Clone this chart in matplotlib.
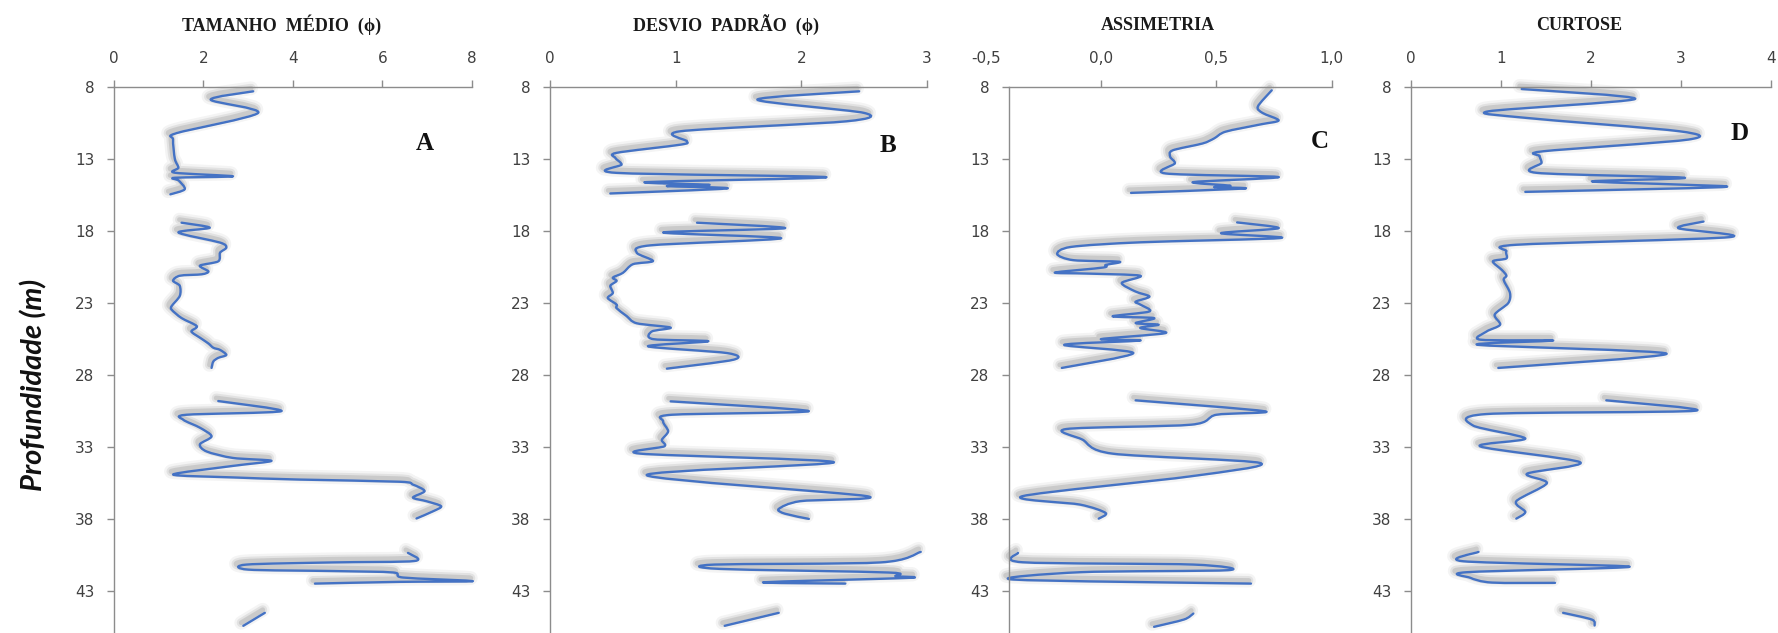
import numpy as np
import matplotlib
matplotlib.use("Agg")
import matplotlib.pyplot as plt
import matplotlib.patheffects as pe
from matplotlib.path import Path
from matplotlib.patches import PathPatch

nan = np.nan

# profundidade (m) e valores, gaps entre intervalos amostrados marcados com nan
depth_a = [8.3, 8.88, 9.8, 11.2, 11.65, 13.0, 13.6, 13.95, 14.2, 14.3, 14.5, 15.1, 15.45, nan,
           17.42, 17.77, 18.1, 18.8, 19.15, 19.5, 20.1, 20.4, 20.8, 21.0, 21.1, 21.45, 21.8, 22.5,
           23.2, 23.46, 24.04, 24.6, 24.97, 25.4, 25.8, 26.1, 26.25, 26.6, 26.8, 27.05, 27.5, nan,
           29.8, 30.5, 30.75, 31.1, 31.65, 32.25, 32.8, 33.3, 33.75, 33.95, 34.3, 34.9, 35.1, 35.25,
           35.4, 35.6, 36.05, 36.5, 36.75, 37.1, 37.45, 37.95, nan,
           40.34, 40.9, 41.0, 41.15, 41.5, 41.6, 41.7, 42.05, 42.3, 42.35, 42.47, nan,
           44.5, 45.4]
media = [3.11, 2.16, 3.22, 1.40, 1.32, 1.36, 1.44, 1.36, 2.66, 1.36, 1.45, 1.58, 1.26, nan,
         1.51, 2.14, 1.44, 2.37, 2.51, 2.37, 2.33, 1.92, 2.11, 1.96, 1.47, 1.32, 1.47, 1.47,
         1.29, 1.29, 1.51, 1.85, 1.73, 1.92, 2.11, 2.22, 2.37, 2.51, 2.33, 2.22, 2.18, nan,
         2.33, 3.74, 1.62, 1.55, 1.92, 2.18, 1.92, 2.07, 2.66, 3.52, 2.66, 1.32, 2.66, 4.15,
         6.38, 6.68, 6.94, 6.68, 6.98, 7.31, 7.13, 6.76, nan,
         6.57, 6.72, 4.9, 2.96, 3.0, 4.9, 6.24, 6.46, 8.02, 6.38, 4.49, nan,
         3.37, 2.89]

depth_b = [8.3, 8.88, 9.8, 10.38, 11.07, 11.77, 12.0, 12.57, 12.92, 13.38, 13.96, 14.26, 14.6,
           14.79, 14.88, 15.04, 15.39, nan,
           17.42, 17.8, 18.1, 18.5, 18.99, 19.5, 20.08, 20.3, 20.9, 21.23, 21.46, 21.8, 22.3,
           22.65, 23.1, 23.35, 23.9, 24.4, 24.7, 24.97, 25.5, 25.65, 26.0, 26.47, 26.93, 27.55, nan,
           29.82, 30.5, 30.75, 31.2, 31.9, 32.5, 32.94, 33.45, 34.05, 34.95, 36.4, 36.75, 37.29,
           37.62, 37.98, nan,
           40.27, 41.0, 41.15, 41.45, 41.7, 41.95, 42.07, 42.38, 42.47, nan,
           44.5, 45.4]
desvio = [2.46, 1.65, 2.50, 2.36, 1.04, 1.09, 1.04, 0.53, 0.52, 0.57, 0.53, 2.20, 0.77,
          1.27, 0.93, 1.41, 0.48, nan,
          1.17, 1.87, 0.90, 1.84, 0.80, 0.69, 0.82, 0.66, 0.58, 0.50, 0.53, 0.48, 0.50,
          0.46, 0.53, 0.53, 0.61, 0.69, 0.96, 0.81, 0.82, 1.26, 0.78, 1.41, 1.46, 0.93, nan,
          0.96, 2.06, 0.97, 0.90, 0.94, 0.89, 0.91, 0.72, 2.26, 0.77, 2.52, 1.99, 1.82,
          1.87, 2.06, nan,
          2.95, 2.63, 1.31, 1.35, 2.69, 2.75, 2.86, 1.70, 2.35, nan,
          1.82, 1.39]

depth_c = [8.23, 9.35, 9.8, 10.32, 10.6, 11.1, 11.57, 11.92, 12.4, 12.85, 13.3, 14.0, 14.25,
           14.6, 14.85, 14.95, 15.05, 15.35, nan,
           17.4, 17.8, 18.15, 18.48, 18.78, 19.1, 19.6, 20.02, 20.13, 20.35, 20.53, 20.88, 20.95,
           21.1, 21.6, 22.2, 22.55, 22.9, 23.1, 23.58, 23.92, 24.04, 24.39, 24.5, 24.73, 25.08,
           25.5, 25.6, 25.9, 26.47, 27.5, nan,
           29.75, 30.51, 30.75, 31.44, 31.74, 32.48, 33.45, 34.1, 35.02, 36.4, 36.99, 37.57,
           37.96, nan,
           40.34, 40.99, 41.15, 41.54, 41.68, 42.19, 42.47, nan,
           44.55, 44.96, 45.47]
assimetria = [0.74, 0.68, 0.70, 0.77, 0.69, 0.54, 0.49, 0.44, 0.31, 0.30, 0.32, 0.28, 0.77,
              0.40, 0.56, 0.49, 0.62, 0.13, nan,
              0.59, 0.77, 0.52, 0.78, 0.17, -0.13, -0.19, -0.12, 0.08, 0.02, 0.01, -0.20, -0.06,
              0.17, 0.09, 0.15, 0.21, 0.15, 0.17, 0.21, 0.05, 0.23, 0.15, 0.25, 0.17, 0.28,
              0.0, 0.17, -0.16, 0.14, -0.17, nan,
              0.15, 0.71, 0.50, 0.39, -0.15, -0.08, 0.05, 0.69, 0.39, -0.34, -0.09, 0.02,
              -0.01, nan,
              -0.36, -0.34, 0.40, 0.55, -0.09, -0.38, 0.65, nan,
              0.40, 0.36, 0.23]

depth_d = [8.14, 8.83, 9.69, 10.15, 11.07, 11.65, 12.46, 12.8, 13.27, 13.96, 14.3, 14.55,
           14.77, 14.95, 15.28, nan,
           17.34, 17.8, 18.42, 18.95, 19.4, 19.9, 20.1, 20.7, 21.1, 21.4, 22.3, 23.0, 23.8,
           24.5, 24.97, 25.54, 25.6, 25.9, 26.51, 27.5, nan,
           29.75, 30.47, 30.7, 31.5, 32.4, 32.95, 34.05, 34.84, 35.5, 36.75, 37.5, 37.96, nan,
           40.27, 40.92, 41.3, 41.68, 42.07, 42.4, 42.42, nan,
           44.5, 44.97, 45.38]
curtose = [1.23, 2.49, 0.86, 1.29, 2.98, 3.08, 1.47, 1.43, 1.45, 1.40, 3.04, 2.01,
           2.97, 3.45, 1.27, nan,
           3.25, 2.97, 3.54, 1.17, 1.06, 1.06, 0.91, 1.01, 1.06, 1.03, 1.10, 1.08, 0.93,
           0.99, 0.84, 0.77, 1.58, 0.75, 2.84, 0.97, nan,
           2.17, 3.16, 0.84, 0.69, 1.27, 0.77, 1.88, 1.29, 1.51, 1.17, 1.27, 1.17, nan,
           0.75, 0.58, 2.43, 0.62, 0.66, 0.90, 1.60, nan,
           1.69, 2.01, 2.04]

depth_ticks = [8, 13, 18, 23, 28, 33, 38, 43]
titles = ["TAMANHO  MÉDIO  (ϕ)", "DESVIO  PADRÃO  (ϕ)", "ASSIMETRIA", "CURTOSE"]
letters = ["A", "B", "C", "D"]
x_ticks = [[0, 2, 4, 6, 8], [0, 1, 2, 3], [-0.5, 0.0, 0.5, 1.0], [0, 1, 2, 3, 4]]
x_labels = [["0", "2", "4", "6", "8"], ["0", "1", "2", "3"],
            ["-0,5", "0,0", "0,5", "1,0"], ["0", "1", "2", "3", "4"]]
x_limits = [(0, 8), (0, 3), (-0.5, 1.0), (0, 4)]
series = [(media, depth_a), (desvio, depth_b), (assimetria, depth_c), (curtose, depth_d)]


def smooth_path(xs, ys, k=1 / 7):
    """Smoothed line through the points (Catmull-Rom as cubic Bezier), broken at nan."""
    xs = np.asarray(xs, float)
    ys = np.asarray(ys, float)
    verts, codes = [], []
    breaks = np.where(np.isnan(xs))[0]
    starts = np.r_[0, breaks + 1]
    ends = np.r_[breaks, len(xs)]
    for s, e in zip(starts, ends):
        p = np.column_stack([xs[s:e], ys[s:e]])
        if len(p) < 2:
            continue
        verts.append(p[0]); codes.append(Path.MOVETO)
        for i in range(len(p) - 1):
            p0 = p[i - 1] if i > 0 else p[i]
            p3 = p[i + 2] if i + 2 < len(p) else p[i + 1]
            c1 = p[i] + (p[i + 1] - p0) * k
            c2 = p[i + 1] - (p3 - p[i]) * k
            verts += [c1, c2, p[i + 1]]
            codes += [Path.CURVE4] * 3
    return Path(verts, codes)


W, H = 1778, 633
fig = plt.figure(figsize=(W / 100, H / 100), dpi=100)

# pixel extents of each track: left, right
rects_px = [(114, 472), (550, 927), (985.7, 1331.7), (1411, 1771)]
top_px = 87
title_x = [282, 726, 1158, 1579]
letter_xy = [(425, 143), (888, 145), (1320, 142), (1740, 133)]

shadow = [pe.SimpleLineShadow(offset=(-1.5, 2.2), shadow_color="#000000", alpha=0.045, linewidth=10),
          pe.SimpleLineShadow(offset=(-1.5, 2.2), shadow_color="#000000", alpha=0.07, linewidth=6.5),
          pe.SimpleLineShadow(offset=(-1.5, 2.2), shadow_color="#000000", alpha=0.10, linewidth=3.5),
          pe.Normal()]

axis_grey = "#8c8c8c"
label_grey = "#404040"

for i in range(4):
    l, r = rects_px[i]
    ax = fig.add_axes([l / W, 0, (r - l) / W, 1 - top_px / H])
    vals, deps = series[i]
    patch = PathPatch(smooth_path(vals, deps), facecolor="none", edgecolor="#4472C4",
                      lw=1.7, joinstyle="round", capstyle="round", clip_on=False,
                      path_effects=shadow)
    ax.add_patch(patch)
    ax.set_xlim(*x_limits[i])
    ax.set_ylim(45.9, 8)
    ax.xaxis.tick_top()
    ax.set_xticks(x_ticks[i])
    ax.set_xticklabels(x_labels[i])
    ax.set_yticks(depth_ticks)
    for side in ("right", "bottom"):
        ax.spines[side].set_visible(False)
    for side in ("top", "left"):
        ax.spines[side].set_color(axis_grey)
        ax.spines[side].set_linewidth(1.0)
    ax.tick_params(axis="both", colors=axis_grey, labelcolor=label_grey,
                   labelsize=11, length=5, width=1, direction="out")
    ax.tick_params(axis="x", pad=10)
    ax.tick_params(axis="y", pad=9)
    if i == 2:
        # vertical axis crosses at -0,4
        ax.spines["left"].set_position(("data", -0.4))
        ax.spines["top"].set_bounds(-0.4, 1.0)
        ax.xaxis.get_major_ticks()[0].tick2line.set_visible(False)

    fig.text(title_x[i] / W, 1 - 25 / H, titles[i], ha="center", va="center",
             family="Liberation Serif", weight="bold", size=13, color="#1a1a1a")
    lx, ly = letter_xy[i]
    fig.text(lx / W, 1 - ly / H, letters[i], ha="center", va="center",
             family="Liberation Serif", weight="bold", size=18, color="#111111")

fig.text(34 / W, 1 - 385 / H, "Profundidade (m)", rotation=90, ha="center", va="center",
         family="Lato", style="italic", weight="bold", size=21, color="#111111")

fig.savefig("out.png", dpi=100)
